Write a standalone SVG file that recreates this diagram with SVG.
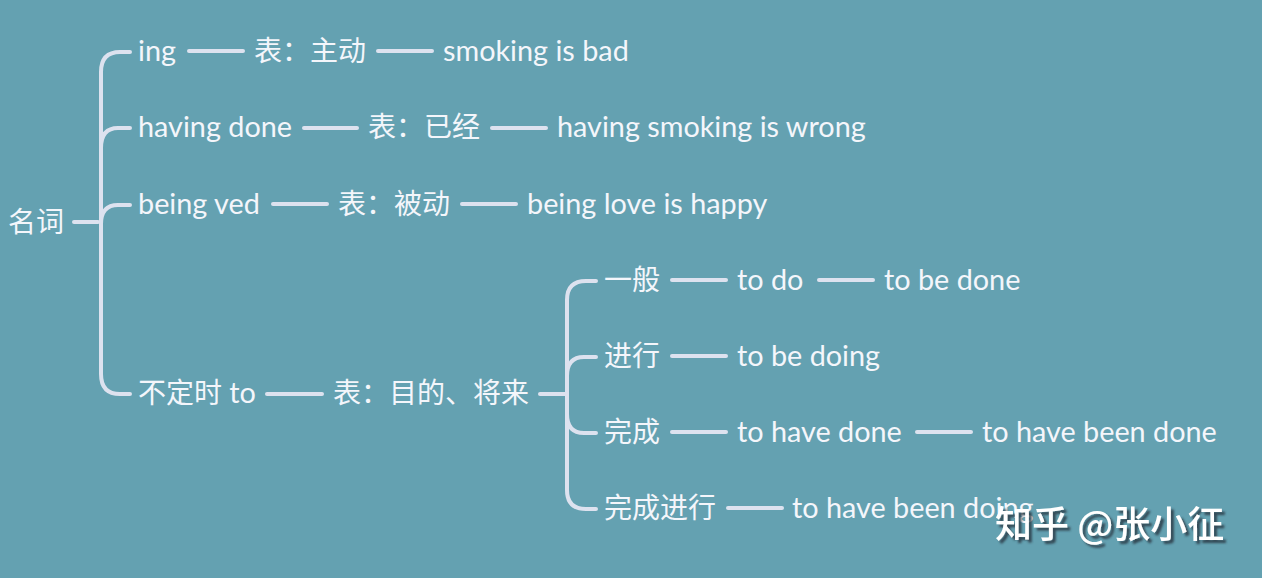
<svg xmlns="http://www.w3.org/2000/svg" width="1262" height="578" viewBox="0 0 1262 578">
<defs>
<style>
.t{font-family:Lato,"Noto Sans CJK SC",sans-serif;font-size:28px;fill:#f4f6fb}
.e{font-size:28.8px}
.c{fill:none;stroke:#dde2ef;stroke-width:4;stroke-linecap:round}
.wm{font-family:"Noto Sans CJK SC",sans-serif;font-size:37px;font-weight:500;fill:#ffffff}
</style>
<filter id="sh" x="-10%" y="-20%" width="130%" height="160%">
<feDropShadow dx="3" dy="3" stdDeviation="0.8" flood-color="#2a3a44" flood-opacity="0.85"/>
</filter>
</defs>
<rect width="1262" height="578" fill="#64a1b1"/>
<g id="connectors" class="c">
<path d="M74,222 H98"/>
<path d="M130,52 H120 Q101,52 101,72 V374 Q101,394 120,394 H130"/>
<path d="M101,148 Q101,128 118,128 H130"/>
<path d="M101,224 Q101,205 118,205 H130"/>
<path d="M189,51 H243"/>
<path d="M378,51 H432"/>
<path d="M304,128 H357"/>
<path d="M492,128 H546"/>
<path d="M273,204 H327"/>
<path d="M462,204 H516"/>
<path d="M267,394 H322"/>
<path d="M540,394 H566"/>
<path d="M596,281 H586 Q567,281 567,300 V490 Q567,509 586,509 H596"/>
<path d="M567,376 Q567,357 584,357 H596"/>
<path d="M567,414 Q567,433 584,433 H596"/>
<path d="M672,280 H726"/>
<path d="M819,280 H873"/>
<path d="M672,356 H726"/>
<path d="M672,432 H726"/>
<path d="M917,432 H971"/>
<path d="M728,508 H782"/>
</g>
<g id="n-root"><text class="t" x="8" y="232">名词</text></g>
<g id="n-ing"><text class="t e" x="138" y="61">ing</text></g>
<g id="n-ing-m"><text class="t" x="254" y="61">表：主动</text></g>
<g id="n-ing-e"><text class="t e" x="443" y="61">smoking is bad</text></g>
<g id="n-hd"><text class="t e" x="138" y="137">having done</text></g>
<g id="n-hd-m"><text class="t" x="368" y="137">表：已经</text></g>
<g id="n-hd-e"><text class="t e" x="557" y="137">having smoking is wrong</text></g>
<g id="n-bv"><text class="t e" x="138" y="214">being ved</text></g>
<g id="n-bv-m"><text class="t" x="338" y="214">表：被动</text></g>
<g id="n-bv-e"><text class="t e" x="527" y="214">being love is happy</text></g>
<g id="n-to"><text class="t" x="138" y="403">不定时 <tspan class="e">to</tspan></text></g>
<g id="n-to-m"><text class="t" x="333" y="403">表：目的、将来</text></g>
<g id="n-yb"><text class="t" x="604" y="290">一般</text></g>
<g id="n-yb-1"><text class="t e" x="737" y="290">to do</text></g>
<g id="n-yb-2"><text class="t e" x="884" y="290">to be done</text></g>
<g id="n-jx"><text class="t" x="604" y="366">进行</text></g>
<g id="n-jx-1"><text class="t e" x="737" y="366">to be doing</text></g>
<g id="n-wc"><text class="t" x="604" y="442">完成</text></g>
<g id="n-wc-1"><text class="t e" x="737" y="442">to have done</text></g>
<g id="n-wc-2"><text class="t e" x="982" y="442">to have been done</text></g>
<g id="n-wj"><text class="t" x="604" y="518">完成进行</text></g>
<g id="n-wj-1"><text class="t e" x="792" y="518">to have been doing</text></g>
<text class="wm" x="995" y="538" filter="url(#sh)">知乎 @张小征</text>
</svg>
